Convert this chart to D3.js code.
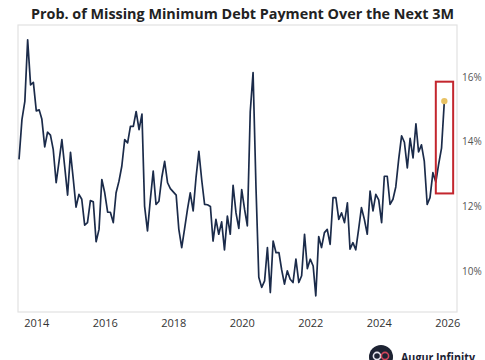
<!DOCTYPE html>
<html>
<head>
<meta charset="utf-8">
<script src="https://cdn.jsdelivr.net/npm/d3@7"></script>
<style>
  body { margin: 0; background: #fff; }
  svg { display: block; }
  .x.axis text { font: 11px "Open Sans", sans-serif; fill: #333; }
  .y.axis text { font: 10px "Open Sans", sans-serif; fill: #555; }
</style>
</head>
<body>
<div id="chart"></div>
<script>
// Monthly readings, first month is Jul 2013.
var firstMonth = "2013-07";
var lead2013 = [13.45, 14.68, 15.24, 17.14, 15.75, 15.83];
var v2014 = [14.95, 14.98, 14.7, 13.84, 14.29, 14.2, 13.75, 12.73, 13.4, 14.06, 13.2, 12.35];
var v2015 = [13.67, 12.8, 11.98, 12.37, 12.22, 11.42, 11.5, 12.18, 12.14, 10.91, 11.29, 12.83];
var v2016 = [12.42, 11.82, 11.82, 11.5, 12.42, 12.78, 13.24, 14.06, 13.96, 14.47, 14.47, 14.93];
var v2017 = [14.37, 14.85, 12.01, 11.24, 12.2, 13.09, 12.06, 12.16, 12.9, 13.39, 12.73, 12.55];
var v2018 = [12.45, 12.35, 11.3, 10.73, 11.3, 11.9, 12.42, 11.86, 12.9, 13.7, 12.8, 12.06];
var v2019 = [12.05, 12.0, 10.93, 11.6, 11.14, 11.52, 10.66, 11.7, 11.14, 12.65, 11.8, 11.32];
var v2020 = [12.52, 11.9, 11.4, 14.93, 16.13, 12.6, 9.81, 9.5, 9.7, 10.73, 9.34, 10.93];
var v2021 = [10.57, 10.57, 10.06, 9.6, 10.01, 9.75, 9.65, 10.37, 9.65, 9.86, 11.14, 10.08];
var v2022 = [10.37, 10.16, 9.24, 11.07, 10.73, 11.19, 11.29, 10.83, 12.27, 12.27, 11.6, 11.8];
var v2023 = [11.5, 12.11, 10.68, 10.88, 10.66, 11.3, 11.96, 11.6, 11.14, 12.47, 11.86, 12.37];
var v2024 = [12.2, 11.5, 12.93, 12.93, 12.06, 12.22, 12.6, 13.45, 14.18, 13.98, 13.19, 14.1];
var v2025 = [13.5, 14.55, 13.68, 13.9, 13.4, 12.06, 12.27, 13.04, 12.75, 13.3, 13.8, 15.25];

var xTicks = [2014, 2016, 2018, 2020, 2022, 2024, 2026];
var yTicks = [10, 12, 14, 16];
var xDomain = ["2013-06-20", "2026-04-15"];
var yDomain = [8.74, 17.6];

// highlighted recent stretch (red box)
var boxMonths = ["2025-09-01", "2026-03-05"];
var boxValues = [12.4, 15.85];

var title = "Prob. of Missing Minimum Debt Payment Over the Next 3M";
var brand = "Augur Infinity";

var W = 485, H = 360;
var margin = {top: 25, right: 28, bottom: 48, left: 18};
var width = W - margin.left - margin.right,
    height = H - margin.top - margin.bottom;

var parseMonth = d3.timeParse("%Y-%m"),
    parseDay = d3.timeParse("%Y-%m-%d");

var values = [].concat(lead2013, v2014, v2015, v2016, v2017, v2018, v2019,
                       v2020, v2021, v2022, v2023, v2024, v2025);
var start = parseMonth(firstMonth);
var data = values.map(function(v, i) {
  return {date: d3.timeMonth.offset(start, i), value: v};
});

var x = d3.scaleTime().domain(xDomain.map(parseDay)).range([0, width]);
var y = d3.scaleLinear().domain(yDomain).range([height, 0]);

var svg = d3.select("#chart").append("svg")
    .attr("width", W)
    .attr("height", H);

// title
svg.append("text")
    .attr("x", W / 2)
    .attr("y", 19)
    .attr("text-anchor", "middle")
    .attr("textLength", 423)
    .attr("lengthAdjust", "spacingAndGlyphs")
    .style("font", "bold 15px 'Open Sans', sans-serif")
    .style("fill", "#222")
    .text(title);

var g = svg.append("g")
    .attr("transform", "translate(" + margin.left + "," + margin.top + ")");

// frame
g.append("rect")
    .attr("width", width)
    .attr("height", height)
    .attr("fill", "none")
    .attr("stroke", "#e2e2e2")
    .attr("stroke-width", 1.2);

// x axis
var xAxis = d3.axisBottom(x)
    .tickValues(xTicks.map(function(yr) { return new Date(yr, 0, 1); }))
    .tickFormat(d3.timeFormat("%Y"))
    .tickSize(0)
    .tickPadding(7);
g.append("g")
    .attr("class", "x axis")
    .attr("transform", "translate(0," + height + ")")
    .call(xAxis)
    .call(function(s) { s.select(".domain").remove(); });

// y axis on the right
var yAxis = d3.axisRight(y)
    .tickValues(yTicks)
    .tickFormat(function(d) { return d + "%"; })
    .tickSize(0)
    .tickPadding(5);
g.append("g")
    .attr("class", "y axis")
    .attr("transform", "translate(" + width + ",0)")
    .call(yAxis)
    .call(function(s) { s.select(".domain").remove(); });

// the series
var line = d3.line()
    .x(function(d) { return x(d.date); })
    .y(function(d) { return y(d.value); });

g.append("path")
    .datum(data)
    .attr("fill", "none")
    .attr("stroke", "#1b2b4a")
    .attr("stroke-width", 1.7)
    .attr("stroke-linejoin", "round")
    .attr("d", line);

// red box round the latest readings
var bx0 = x(parseDay(boxMonths[0])), bx1 = x(parseDay(boxMonths[1]));
g.append("rect")
    .attr("x", bx0)
    .attr("y", y(boxValues[1]))
    .attr("width", bx1 - bx0)
    .attr("height", y(boxValues[0]) - y(boxValues[1]))
    .attr("fill", "none")
    .attr("stroke", "#c3262e")
    .attr("stroke-width", 2);

// last point
var last = data[data.length - 1];
g.append("circle")
    .attr("cx", x(last.date))
    .attr("cy", y(last.value))
    .attr("r", 3.2)
    .attr("fill", "#e8c264");

// brand mark
var logo = svg.append("g").attr("transform", "translate(381,357)");
logo.append("circle").attr("r", 12).attr("fill", "#1d2333");
logo.append("circle").attr("cx", -4).attr("cy", -1).attr("r", 3.6).attr("fill", "none")
    .attr("stroke", "#e6e6ee").attr("stroke-width", 1.6);
logo.append("circle").attr("cx", 4).attr("cy", -1).attr("r", 3.6).attr("fill", "none")
    .attr("stroke", "#d2455a").attr("stroke-width", 1.6);

svg.append("text")
    .attr("x", 401)
    .attr("y", 362)
    .attr("textLength", 74)
    .attr("lengthAdjust", "spacingAndGlyphs")
    .style("font", "bold 13px 'Open Sans', sans-serif")
    .style("fill", "#1d2333")
    .text(brand);
</script>
</body>
</html>
